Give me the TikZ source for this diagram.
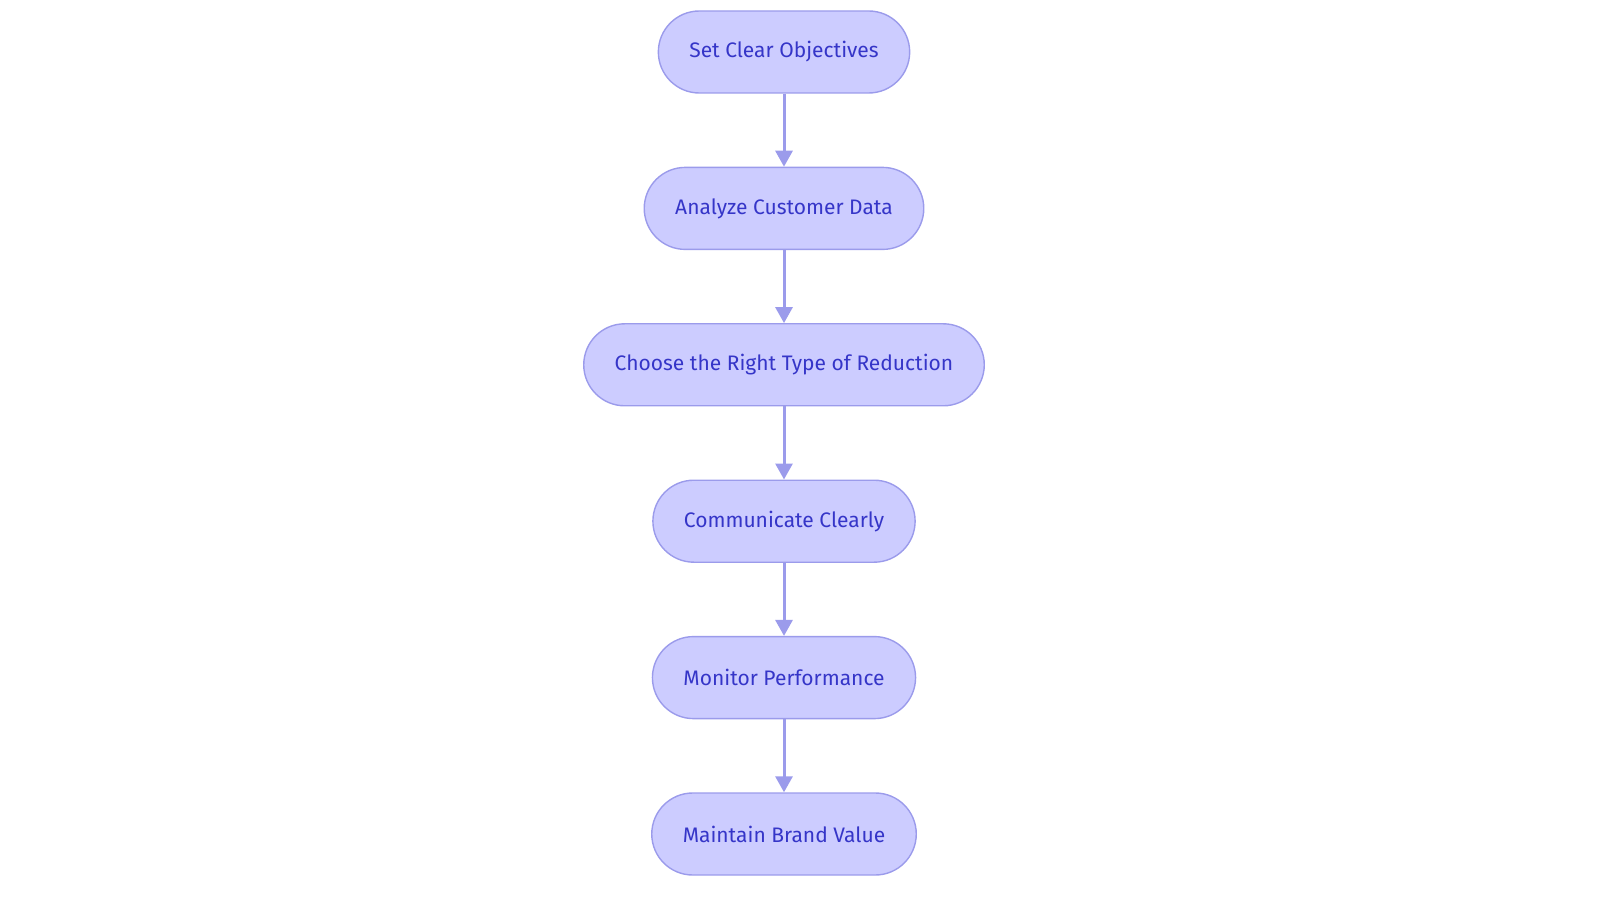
\documentclass[tikz,border=0pt]{standalone}
\usepackage{fontspec}
\setmainfont{Fira Sans}
\usetikzlibrary{positioning}
\usetikzlibrary{arrows.meta}
\definecolor{stepfill}{HTML}{CCCCFF}
\definecolor{stepline}{HTML}{9B9BEB}
\definecolor{steptext}{HTML}{3535C8}
\begin{document}
\begin{tikzpicture}[x=1pt, y=1pt, node distance=36.5pt,
    stage/.style={draw=stepline, fill=stepfill, text=steptext, rounded corners=20.5pt, minimum height=41pt, inner xsep=15.5pt, font=\fontsize{10.5}{12}\selectfont, line width=0.7pt},
    flow/.style={draw=stepline, line width=1.5pt, -{Triangle[length=8pt, width=8.5pt]}}]
            \useasboundingbox (0,0) rectangle (800,-451.5);
            \node[stage] (objectives) at (392,-26) {Set Clear Objectives};
            \node[stage, below = of objectives] (analyze) {Analyze Customer Data};
            \node[stage, below = of analyze] (reduction) {Choose the Right Type of Reduction};
            \node[stage, below = of reduction] (communicate) {Communicate Clearly};
            \node[stage, below = of communicate] (monitor) {Monitor Performance};
            \node[stage, below = of monitor] (brand) {Maintain Brand Value};

            \draw[flow] (objectives) -- (analyze);
            \draw[flow] (analyze) -- (reduction);
            \draw[flow] (reduction) -- (communicate);
            \draw[flow] (communicate) -- (monitor);
            \draw[flow] (monitor) -- (brand);
        \end{tikzpicture}
\end{document}
